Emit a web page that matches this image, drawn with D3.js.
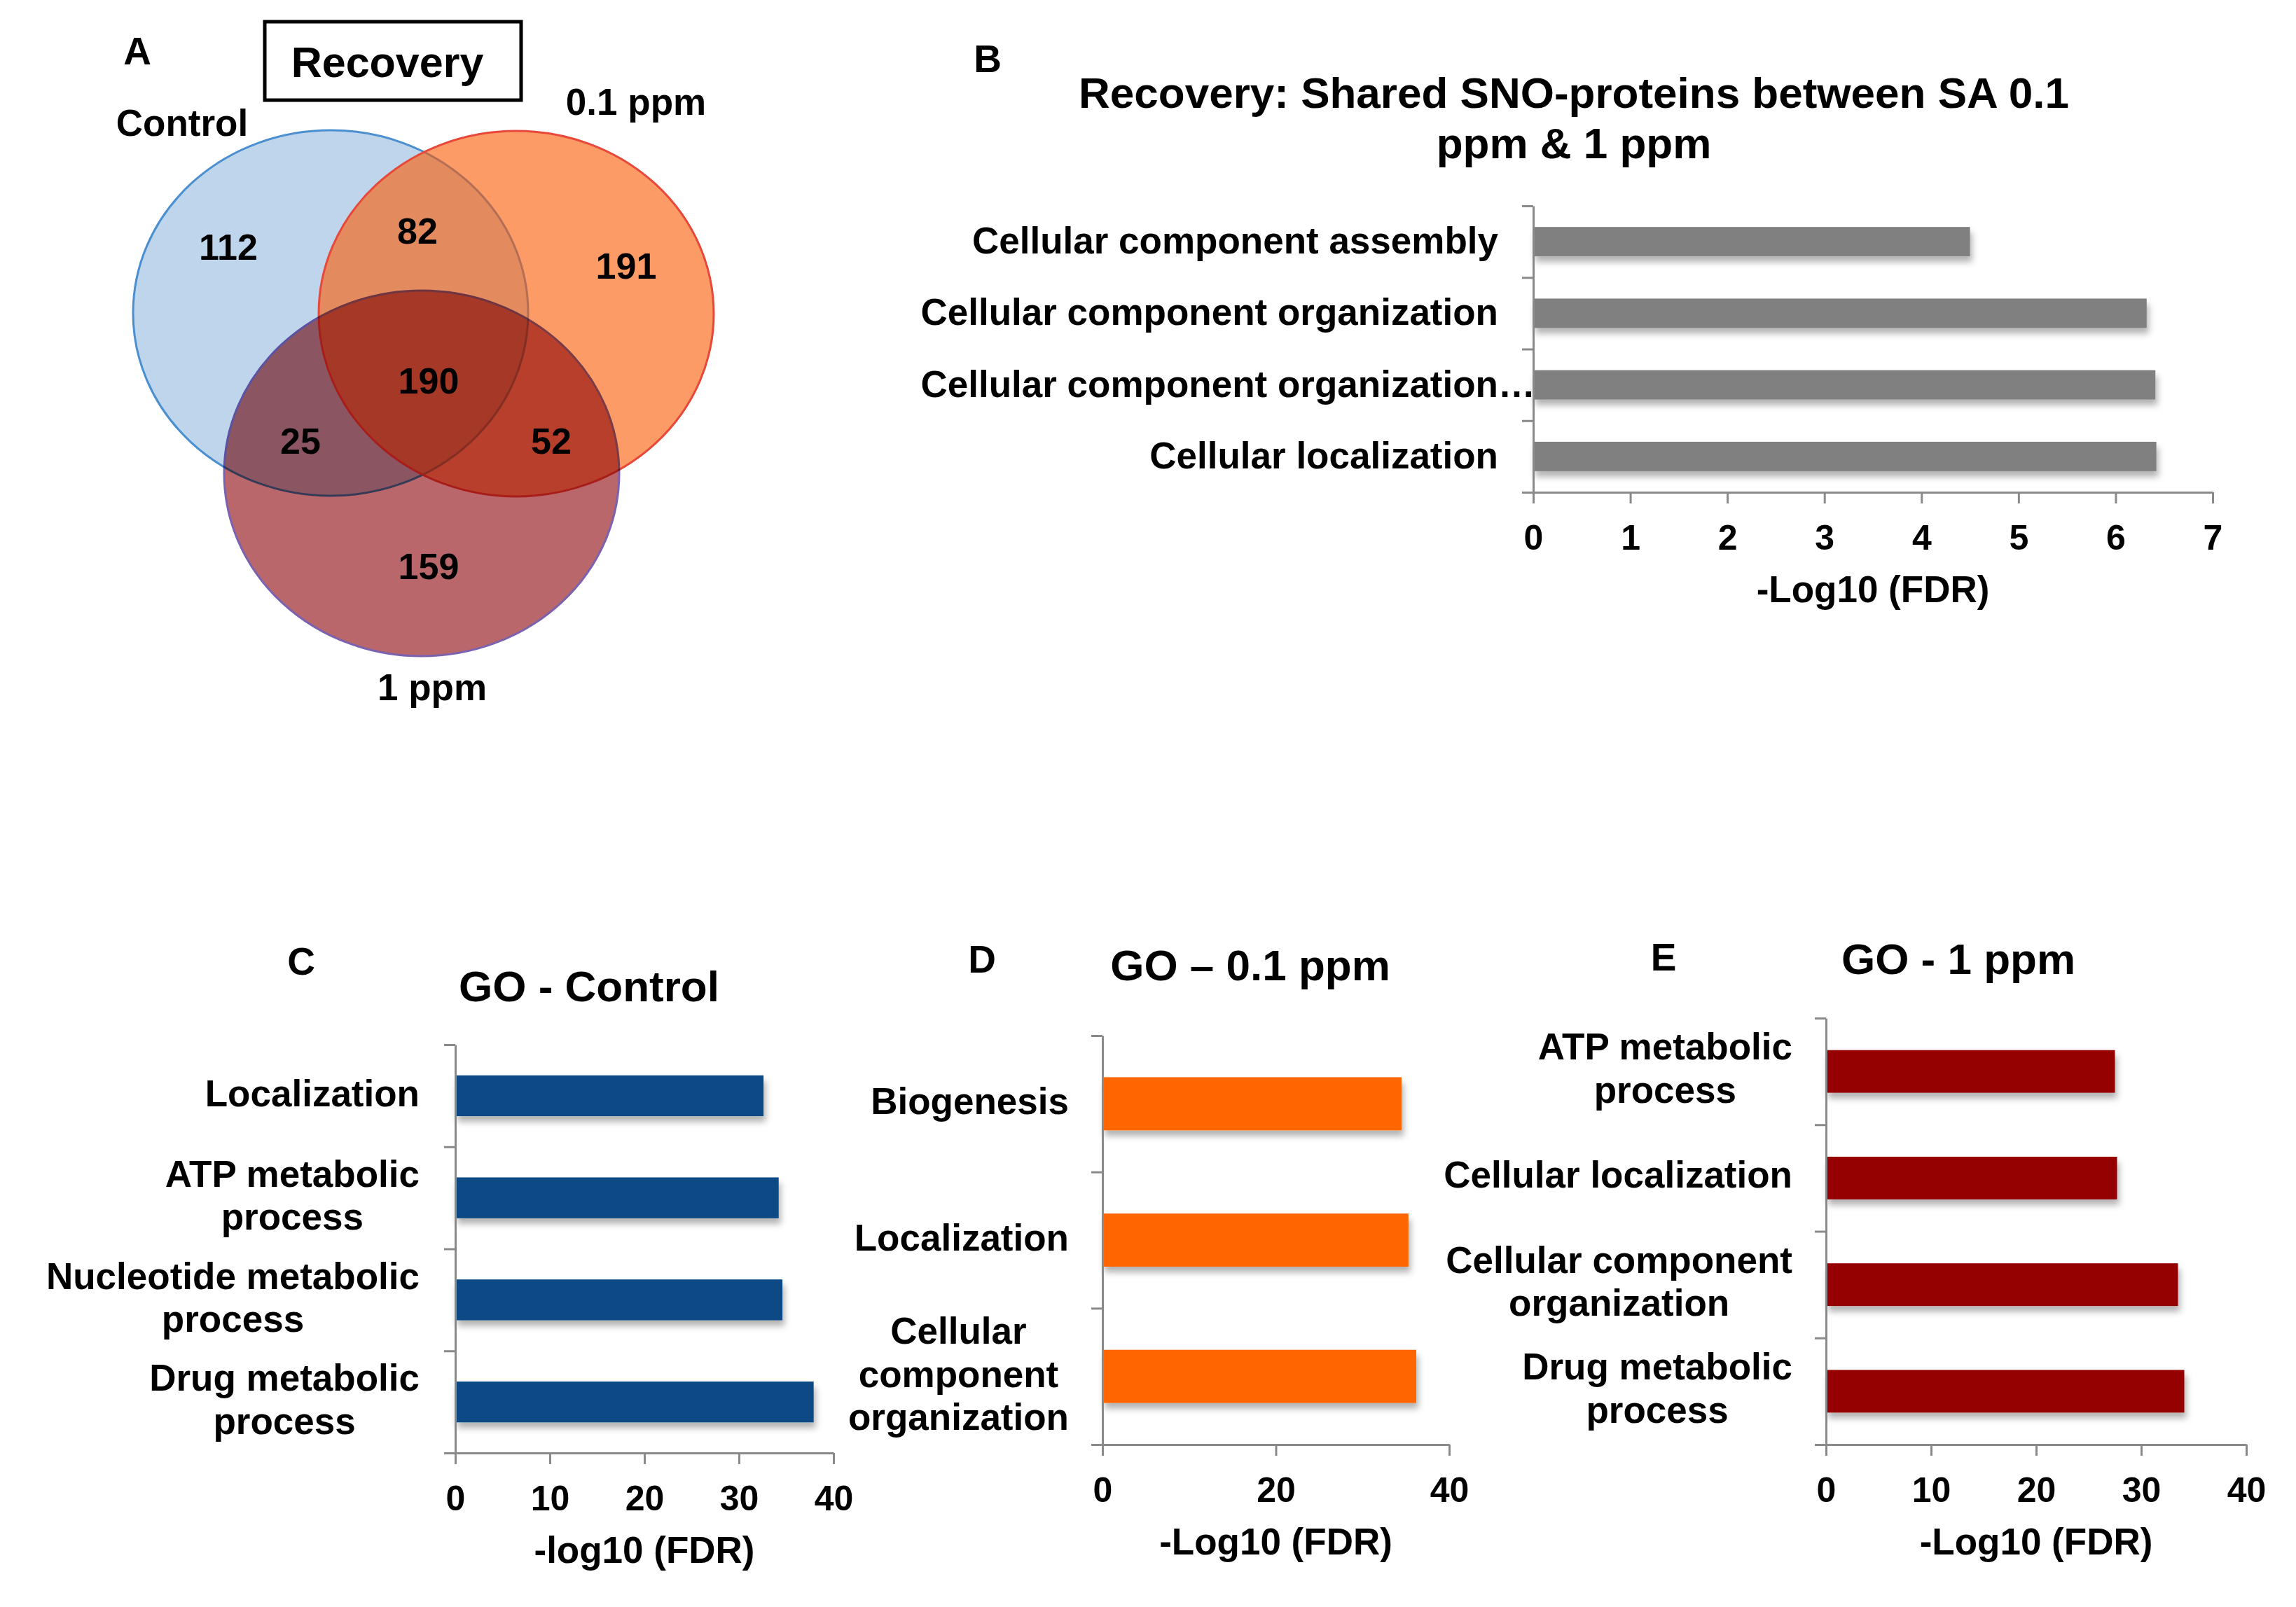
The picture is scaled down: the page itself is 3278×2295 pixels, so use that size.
<!DOCTYPE html>
<html>
<head>
<meta charset="utf-8">
<script src="https://cdn.jsdelivr.net/npm/d3@7"></script>
<style>
  body { margin: 0; background: #fff; }
  text { font-family: "Liberation Sans", Arial, Helvetica, sans-serif; font-weight: bold; fill: #000; }
</style>
</head>
<body>
<script>
// ---- data ----
const vennSets = ["Control", "0.1 ppm", "1 ppm"];
const vennRegions = ["Control", "Control+0.1", "0.1", "all", "Control+1", "0.1+1", "1"];
const vennCounts = [112, 82, 191, 190, 25, 52, 159];

const bCats = ["Cellular component assembly", "Cellular component organization",
  "Cellular component organization…", "Cellular localization"];
const bVals = [4.50, 6.32, 6.41, 6.42];
const bTicks = [0, 1, 2, 3, 4, 5, 6, 7];

const cCats = [["Localization"], ["ATP metabolic", "process"],
  ["Nucleotide metabolic", "process"], ["Drug metabolic", "process"]];
const cVals = [32.6, 34.2, 34.6, 37.9];
const cTicks = [0, 10, 20, 30, 40];

const dCats = [["Biogenesis"], ["Localization"], ["Cellular", "component", "organization"]];
const dVals = [34.5, 35.3, 36.2];
const dTicks = [0, 20, 40];

const eCats = [["ATP metabolic", "process"], ["Cellular localization"],
  ["Cellular component", "organization"], ["Drug metabolic", "process"]];
const eVals = [27.5, 27.7, 33.5, 34.1];
const eTicks = [0, 10, 20, 30, 40];

// ---- page ----
const W = 3278, H = 2295;
const svg = d3.select("body").append("svg").attr("width", W).attr("height", H);
svg.append("rect").attr("width", W).attr("height", H).attr("fill", "#fff");

const filt = svg.append("defs").append("filter").attr("id", "shadow")
  .attr("x", "-5%").attr("y", "-40%").attr("width", "115%").attr("height", "200%");
filt.append("feDropShadow").attr("dx", 3).attr("dy", 8).attr("stdDeviation", 5)
  .attr("flood-color", "#000").attr("flood-opacity", 0.3);

function txt(x, y, s, size, anchor) {
  return svg.append("text").attr("x", x).attr("y", y).attr("font-size", size)
    .attr("text-anchor", anchor || "middle").text(s);
}

// ---- A: venn ----
const ell = [
  { cx: 472, cy: 447, fill: "#bfd5ec", op: 1, stroke: "#4a8fd0", blend: "normal" },
  { cx: 737, cy: 448, fill: "#fc5800", op: 0.6, stroke: "#e8483a", blend: "normal" },
  { cx: 602, cy: 676, fill: "#b9676a", op: 1, stroke: "#7a62b0", blend: "multiply" }
];
svg.append("g").selectAll("ellipse").data(ell).join("ellipse")
  .attr("cx", d => d.cx).attr("cy", d => d.cy).attr("rx", 282).attr("ry", 261)
  .attr("fill", d => d.fill).attr("fill-opacity", d => d.op)
  .attr("stroke", d => d.stroke).attr("stroke-width", 3)
  .style("mix-blend-mode", d => d.blend);

const regionPos = [[326, 371], [596, 348], [894, 398], [612, 562], [429, 648], [787, 648], [612, 827]];
svg.append("g").selectAll("text").data(vennCounts).join("text")
  .attr("x", (d, i) => regionPos[i][0]).attr("y", (d, i) => regionPos[i][1])
  .attr("font-size", 52).attr("text-anchor", "middle").text(d => d);

const setPos = [[260, 194], [908, 164], [617, 1000]];
vennSets.forEach((s, i) => txt(setPos[i][0], setPos[i][1], s, 53));

svg.append("rect").attr("x", 378).attr("y", 31).attr("width", 366).attr("height", 112)
  .attr("fill", "none").attr("stroke", "#000").attr("stroke-width", 5);
txt(553, 110, "Recovery", 61);

// panel letters
txt(196, 92, "A", 55);
txt(1410, 103, "B", 55);
txt(430, 1392, "C", 55);
txt(1402, 1389, "D", 55);
txt(2375, 1386, "E", 55);

// ---- bar panels ----
function barPanel(p) {
  const g = svg.append("g");
  const n = p.vals.length;
  const x = d3.scaleLinear().domain([0, p.max]).range([p.x0, p.x1]);
  const y = d3.scaleBand().domain(d3.range(n)).range([p.y0, p.y1])
    .paddingInner(p.pad).paddingOuter(p.pad / 2);
  const yt = d3.scaleLinear().domain([0, n]).range([p.y0, p.y1]);

  g.append("g").selectAll("rect").data(p.vals).join("rect")
    .attr("x", x(0)).attr("y", (d, i) => y(i))
    .attr("width", d => x(d) - x(0)).attr("height", y.bandwidth())
    .attr("fill", p.color).attr("filter", "url(#shadow)");

  const ya = g.append("g").attr("transform", `translate(${x(0)},0)`)
    .call(d3.axisLeft(yt).tickValues(d3.range(n + 1)).tickFormat("").tickSize(16).tickSizeOuter(0));
  const xa = g.append("g").attr("transform", `translate(0,${p.y1})`)
    .call(d3.axisBottom(x).tickValues(p.ticks).tickFormat(d3.format("d"))
      .tickSize(16).tickSizeOuter(0));
  [ya, xa].forEach(a => {
    a.attr("font-family", null).attr("font-size", null);
    a.selectAll("path,line").attr("stroke", "#8a8a8a").attr("stroke-width", 3);
  });
  xa.selectAll(".tick text").attr("y", 82).attr("dy", null)
    .attr("font-size", 50).attr("fill", "#000");

  // category labels, lines centred on each other, block right-aligned
  const lh = 61.5;
  p.cats.forEach((lines, i) => {
    if (typeof lines === "string") lines = [lines];
    const cy = y(i) + y.bandwidth() / 2;
    const m = lines.length;
    const ts = lines.map((s, k) => {
      let cut = false;
      if (s.endsWith("…")) { s = s.slice(0, -1); cut = true; }
      const ty = cy + p.dy + (k - (m - 1) / 2) * lh;
      const t = g.append("text").attr("font-size", 53).attr("text-anchor", "middle")
        .attr("y", ty).text(s);
      if (cut) {
        g.append("text").attr("font-size", 53).attr("text-anchor", "start")
          .attr("x", p.labelRight).attr("y", ty).text("…");
      }
      return t;
    });
    const wMax = d3.max(ts, t => t.node().getComputedTextLength());
    ts.forEach(t => t.attr("x", p.labelRight - wMax / 2));
  });

  // axis title and chart title
  g.append("text").attr("x", (p.x0 + p.x1) / 2).attr("y", p.y1 + 157)
    .attr("font-size", 53).attr("text-anchor", "middle").text(p.xTitle);
  p.title.forEach((s, k) => {
    g.append("text").attr("x", p.titleX).attr("y", p.titleY + k * 72)
      .attr("font-size", 62).attr("text-anchor", "middle").text(s);
  });
}

barPanel({
  vals: bVals, cats: bCats, ticks: bTicks, max: 7, color: "#808080",
  x0: 2189, x1: 3159, y0: 294, y1: 703, pad: 0.59, labelRight: 2139, dy: 17,
  xTitle: "-Log10 (FDR)", title: ["Recovery: Shared SNO-proteins between SA 0.1", "ppm & 1 ppm"],
  titleX: 2247, titleY: 154
});
barPanel({
  vals: cVals, cats: cCats, ticks: cTicks, max: 40, color: "#074a85",
  x0: 650, x1: 1190, y0: 1492, y1: 2075, pad: 0.6, labelRight: 599, dy: 15,
  xTitle: "-log10 (FDR)", title: ["GO - Control"], titleX: 841, titleY: 1430
});
barPanel({
  vals: dVals, cats: dCats, ticks: dTicks, max: 40, color: "#ff6600",
  x0: 1574, x1: 2069, y0: 1479, y1: 2063, pad: 0.61, labelRight: 1526, dy: 15,
  xTitle: "-Log10 (FDR)", title: ["GO – 0.1 ppm"], titleX: 1785, titleY: 1400
});
barPanel({
  vals: eVals, cats: eCats, ticks: eTicks, max: 40, color: "#950000",
  x0: 2607, x1: 3207, y0: 1454, y1: 2063, pad: 0.6, labelRight: 2559, dy: 14,
  xTitle: "-Log10 (FDR)", title: ["GO - 1 ppm"], titleX: 2796, titleY: 1391
});
</script>
</body>
</html>
